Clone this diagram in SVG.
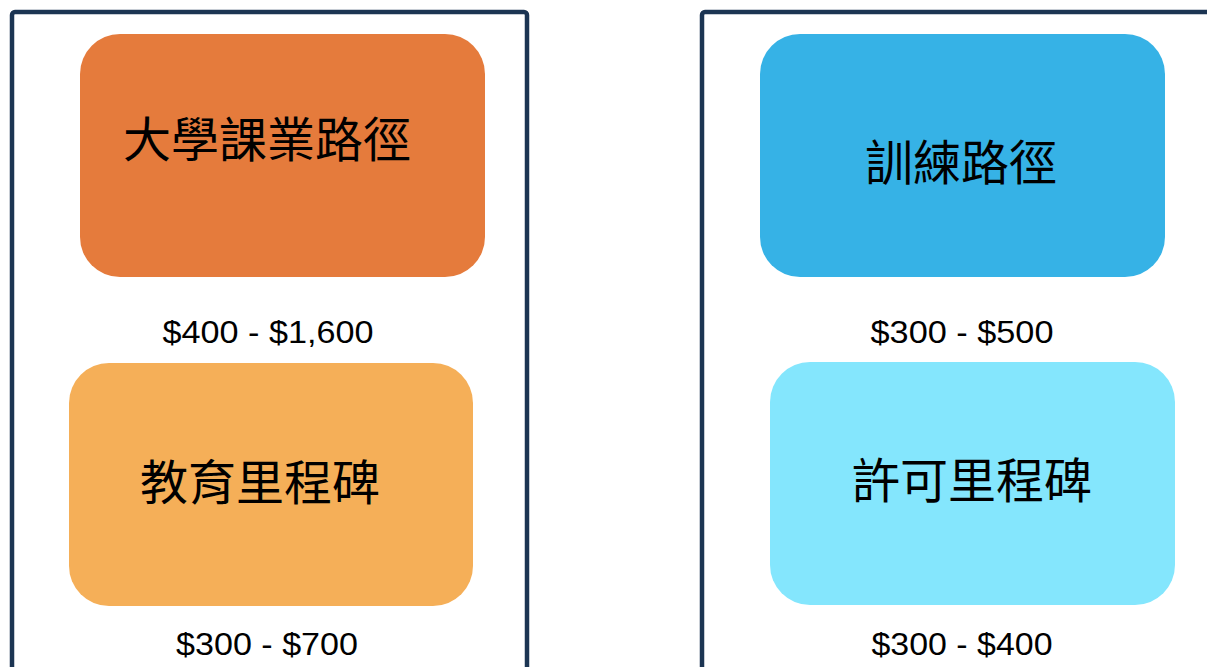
<svg xmlns="http://www.w3.org/2000/svg" width="1207" height="667" viewBox="0 0 1207 667">
<style>
.frame{fill:none;stroke:#1C3553;stroke-width:4.5}
.t{font-family:"Noto Sans CJK TC","Noto Sans CJK SC",sans-serif;font-size:48px;fill:#000;text-anchor:middle}
.p{font-family:"Liberation Sans","DejaVu Sans",sans-serif;font-size:32px;fill:#000;text-anchor:middle}
</style>
<rect width="1207" height="667" fill="#fff"/>
<g id="frame-left"><rect class="frame" x="12" y="12" width="515" height="700" rx="3"/></g>
<g id="frame-right"><rect class="frame" x="702" y="12" width="600" height="700" rx="3"/></g>
<g id="node-university">
<rect x="80" y="34" width="405" height="243" rx="40" fill="#E57B3C"/>
<text class="t" x="267" y="157">大學課業路徑</text>
<text class="p" x="268" y="343" textLength="211" lengthAdjust="spacingAndGlyphs">$400 - $1,600</text>
</g>
<g id="node-education">
<rect x="69" y="363" width="404" height="243" rx="40" fill="#F5AF58"/>
<text class="t" x="260" y="500">教育里程碑</text>
<text class="p" x="267" y="655" textLength="182" lengthAdjust="spacingAndGlyphs">$300 - $700</text>
</g>
<g id="node-training">
<rect x="760" y="34" width="405" height="243" rx="40" fill="#36B2E6"/>
<text class="t" x="961" y="180">訓練路徑</text>
<text class="p" x="962" y="343" textLength="183" lengthAdjust="spacingAndGlyphs">$300 - $500</text>
</g>
<g id="node-license">
<rect x="770" y="362" width="405" height="243" rx="40" fill="#84E6FD"/>
<text class="t" x="972" y="498">許可里程碑</text>
<text class="p" x="962" y="655" textLength="181" lengthAdjust="spacingAndGlyphs">$300 - $400</text>
</g>
<g id="connectors"></g>
</svg>
